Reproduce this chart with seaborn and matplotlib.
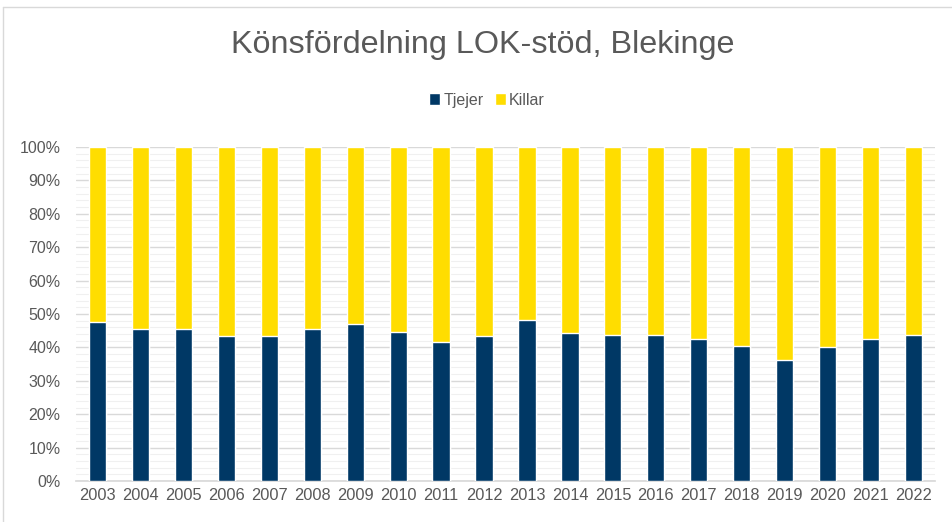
import pandas as pd
import matplotlib.pyplot as plt
import matplotlib.ticker as mticker
from matplotlib.lines import Line2D
import seaborn as sns

# --- Data (andel i procent) ---
years = [str(y) for y in range(2003, 2023)]
tjejer = [47.7, 45.6, 45.6, 43.5, 43.4, 45.5, 47.0, 44.6, 41.7, 43.4,
          48.2, 44.3, 43.8, 43.7, 42.4, 40.5, 36.3, 40.1, 42.5, 43.7]
killar = [100 - t for t in tjejer]

navy = "#003865"
yellow = "#FFDD00"
grey_txt = "#595959"

df = pd.DataFrame({"year": years, "Tjejer": tjejer, "Killar": killar})
df["total"] = df["Tjejer"] + df["Killar"]

sns.set_theme(style="white")
plt.rcParams["font.family"] = ["Liberation Sans", "DejaVu Sans"]

fig = plt.figure(figsize=(9.53, 5.22), dpi=100)
ax = fig.add_axes([76 / 953, 1 - 481 / 522, (935 - 76) / 953, (481 - 147) / 522])

# stacked: draw total (yellow) first, then navy on top
sns.barplot(data=df, x="year", y="total", color=yellow, width=0.4,
            saturation=1, ax=ax, label="Killar", zorder=3)
sns.barplot(data=df, x="year", y="Tjejer", color=navy, width=0.4,
            saturation=1, ax=ax, label="Tjejer", zorder=3)

ax.set_ylim(0, 100)
ax.set_xlim(-0.5, len(years) - 0.5)
ax.yaxis.set_major_locator(mticker.MultipleLocator(10))
ax.yaxis.set_minor_locator(mticker.MultipleLocator(2))
ax.yaxis.set_major_formatter(mticker.FuncFormatter(lambda v, _: f"{v:.0f}%"))
ax.grid(axis="y", which="major", color="#D9D9D9", linewidth=1.0, zorder=0)
ax.grid(axis="y", which="minor", color="#F0F0F0", linewidth=0.8, zorder=0)
ax.set_axisbelow(True)
for s in ["top", "right", "left"]:
    ax.spines[s].set_visible(False)
ax.spines["bottom"].set_color("#D9D9D9")
ax.tick_params(axis="x", length=0, labelsize=11.8, colors=grey_txt, pad=5)
ax.tick_params(axis="y", length=0, labelsize=11.5, colors=grey_txt, pad=11)
ax.set_xlabel("")
ax.set_ylabel("")

# legend
handles, labels = ax.get_legend_handles_labels()
order = [labels.index("Tjejer"), labels.index("Killar")]
fig.legend([handles[i] for i in order], [labels[i] for i in order],
           loc="center", bbox_to_anchor=(487 / 953, 1 - 100 / 522), ncol=2,
           frameon=False, fontsize=11.5, handlelength=0.7, handleheight=0.7,
           handletextpad=0.2, columnspacing=0.7, labelcolor=grey_txt)
if ax.get_legend():
    ax.get_legend().remove()

fig.text(483 / 953, 1 - 45 / 522, "Könsfördelning LOK-stöd, Blekinge",
         ha="center", va="center", fontsize=23.3, color=grey_txt)

# chart border
fig.add_artist(Line2D([3.5 / 953, 3.5 / 953], [0, 1 - 6.5 / 522],
                      transform=fig.transFigure, color="#D9D9D9", lw=1))
fig.add_artist(Line2D([3.5 / 953, 1], [1 - 6.5 / 522, 1 - 6.5 / 522],
                      transform=fig.transFigure, color="#D9D9D9", lw=1))

fig.savefig("out.png", dpi=100)
